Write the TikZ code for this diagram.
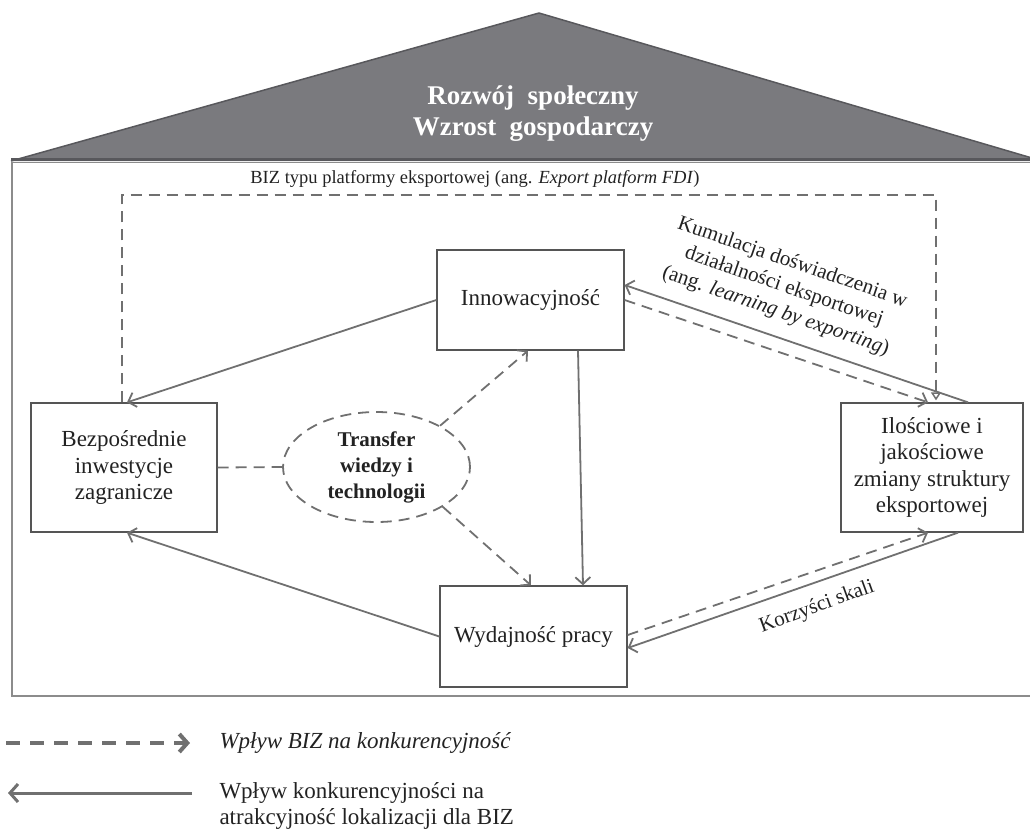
\documentclass[tikz,border=0pt]{standalone}
\usepackage{fontspec}
\setmainfont{Liberation Serif}
\usetikzlibrary{arrows.meta,shapes.geometric,calc}
\definecolor{ln}{HTML}{707070}
\definecolor{bx}{HTML}{555555}
\definecolor{roofc}{HTML}{7A7A7E}
\definecolor{roofedge}{HTML}{58585C}
\definecolor{frm}{HTML}{8C8C8C}
\definecolor{txt}{HTML}{222222}
\begin{document}
\begin{tikzpicture}[x=1pt,y=-1pt,
  box/.style={draw=bx, line width=1.3pt, fill=white, align=center, text=txt,
    font=\fontsize{23}{26.5}\selectfont, inner sep=0pt},
  barb/.style={-{Straight Barb[length=7pt,width=15pt,line width=1.8pt]}},
  sol/.style={draw=ln, line width=1.8pt, barb},
  das/.style={draw=ln, line width=1.8pt, dash pattern=on 11pt off 7pt, barb},
  lbl/.style={text=txt, font=\fontsize{21}{25.5}\selectfont}]
\useasboundingbox (0,0) rectangle (1030,831);
% roof
\fill[roofc] (11,161) -- (539,13) -- (1032,158) -- (1032,161) -- cycle;
\draw[roofedge, line width=1.5pt, line join=round] (11,161) -- (539,13) -- (1032,158);
\draw[roofedge, line width=3pt] (11,159.5) -- (1032,159.5);
\node[text=white, align=center, font=\bfseries\fontsize{27}{31}\selectfont] (rooftxt) at (533,114) {Rozwój\ \ społeczny\\Wzrost\ \ gospodarczy};
% frame
\draw[frm, line width=1.5pt] (1040,162.5) -- (12,162.5) -- (12,696) -- (1040,696);
% platform label
\node[text=txt, font=\fontsize{18.5}{22}\selectfont] (plat) at (475,179) {BIZ typu platformy eksportowej (ang. \textit{Export platform FDI})};
% nodes
\node[box, minimum width=187pt, minimum height=100pt] (innow) at (530.5,300) {Innowacyjność};
\node[box, minimum width=186pt, minimum height=129pt] (bezp) at (124,467.5) {Bezpośrednie\\inwestycje\\zagranicze};
\node[box, minimum width=182pt, minimum height=129pt] (ilosc) at (932,467.5) {Ilościowe i\\jakościowe\\zmiany struktury\\eksportowej};
\node[box, minimum width=187pt, minimum height=101pt] (wyd) at (533.5,636.5) {Wydajność pracy};
\node[ellipse, draw=ln, line width=1.8pt, dash pattern=on 11pt off 7pt, minimum width=187pt, minimum height=110pt, inner sep=0pt, align=center, text=txt, font=\bfseries\fontsize{21}{26}\selectfont] (tr) at (376.5,467) {Transfer\\wiedzy i\\technologii};
% dashed loop
\coordinate (lt) at (122,195);
\draw[draw=ln, line width=1.8pt, dash pattern=on 11pt off 7pt, -{Triangle[open,length=8pt,width=10pt,line width=1.5pt]}] (bezp.north -| lt) -- (lt) -| ([xshift=4pt,yshift=2pt]ilosc.north);
% connectors
\draw[sol] (innow.west) -- ([xshift=3pt]bezp.north);
\draw[sol] (wyd.west) -- ([xshift=3pt]bezp.south);
\draw[sol] ([xshift=47.5pt]innow.south) -- ([xshift=49.5pt]wyd.north);
\draw[das] (tr.33) -- ([xshift=-2.5pt]innow.south);
\draw[das] (tr.-31) -- ([xshift=-2.5pt]wyd.north);
\draw[draw=ln, line width=1.8pt, dash pattern=on 11pt off 7pt] (bezp.east) -- (tr.west);
\draw[sol] ([xshift=36pt]ilosc.north) -- ([yshift=15pt]innow.east);
\draw[das] (innow.east) -- ([xshift=-4pt]ilosc.north);
\draw[sol] ([xshift=26pt]ilosc.south) -- ([yshift=-11.5pt]wyd.east);
\draw[das] ([yshift=1.5pt]wyd.east) -- ([xshift=-4pt]ilosc.south);
% edge labels
\node[lbl, rotate=-19, align=center] (kum) at (784,287) {Kumulacja doświadczenia w\\działalności eksportowej\\(ang. \textit{learning by exporting})};
\node[lbl, rotate=20] (kor) at (817,607) {Korzyści skali};
% legend
\coordinate (l1a) at (6,743);
\coordinate (l1b) at (190,743);
\draw[ln, line width=4pt, dash pattern=on 14pt off 10pt, -{Straight Barb[length=8pt,width=18pt,line width=4pt]}] (l1a) -- (l1b);
\node[anchor=west, text=txt, font=\itshape\fontsize{23}{26}\selectfont] (leg1) at (216,743) {Wpływ BIZ na konkurencyjność};
\coordinate (l2a) at (192,793);
\coordinate (l2b) at (8,793);
\draw[ln, line width=3pt, -{Straight Barb[length=8pt,width=18pt,line width=3pt]}] (l2a) -- (l2b);
\node[anchor=west, align=left, text=txt, font=\fontsize{23}{25.5}\selectfont] (leg2) at (216,806) {Wpływ konkurencyjności na\\atrakcyjność lokalizacji dla BIZ};
\end{tikzpicture}
\end{document}
